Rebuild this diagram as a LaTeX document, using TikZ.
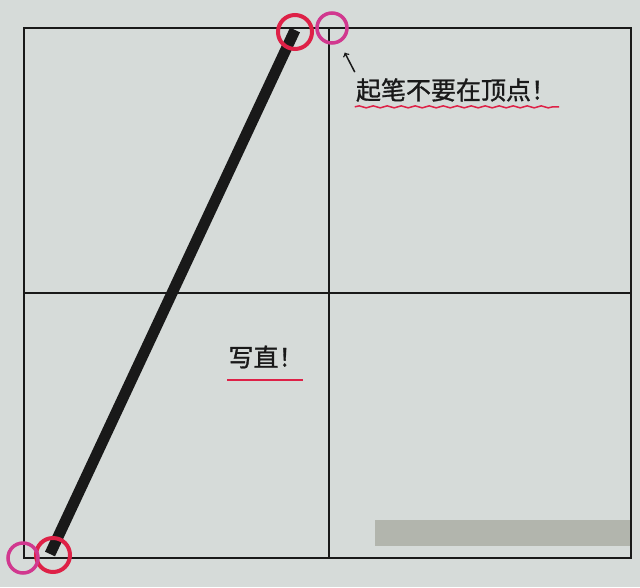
\documentclass[tikz,border=0pt]{standalone}
\usepackage{fontspec}
\newfontfamily\cjk[FakeBold=1.2]{Noto Sans CJK SC}
\usetikzlibrary{positioning}
\usetikzlibrary{calc}
\usetikzlibrary{decorations.pathmorphing}
\definecolor{paper}{rgb}{0.84,0.86,0.85}
\definecolor{patch}{rgb}{0.70,0.71,0.68}
\definecolor{ink}{rgb}{0.1,0.1,0.1}
\definecolor{redpen}{rgb}{0.87,0.13,0.28}
\definecolor{pinkpen}{rgb}{0.82,0.22,0.56}

\begin{document}
\begin{tikzpicture}
    [x=1pt, y=-1pt,
    gridline/.style={draw=ink, line width=2pt},
    stroke/.style={draw=ink, line width=11pt},
    redring/.style={circle, draw=redpen, line width=4pt, minimum size=34pt, inner sep=0pt},
    pinkring/.style={circle, draw=pinkpen, line width=3.5pt, minimum size=30pt, inner sep=0pt},
    note/.style={font=\cjk\fontsize{25}{27}\selectfont, text=ink, inner sep=1pt},
    wavy/.style={draw=redpen, line width=1.5pt, decorate, decoration={snake, amplitude=1pt, segment length=14pt}},
    flat/.style={draw=redpen, line width=2pt}]
     \useasboundingbox (0,0) rectangle (640,587);
     \fill[paper] (0,0) rectangle (640,587);
     \fill[patch] (375,520) rectangle (631,546);
     % field grid
     \coordinate (tl) at (24,28);
     \coordinate (br) at (631,558);
     \coordinate (tm) at (329,28);
     \coordinate (bm) at (329,558);
     \coordinate (ml) at (24,293);
     \coordinate (mr) at (631,293);
     \draw[gridline] (tl) rectangle (br);
     \draw[gridline] (tm) -- (bm);
     \draw[gridline] (ml) -- (mr);
     % the stroke
     \coordinate (top) at (295,30);
     \coordinate (bottom) at (50,554);
     \draw[stroke] (bottom) -- (top);
     % rings
     \node[redring]  (rtop) at (295,32)    {};
     \node[pinkring] (ptop) at (332,28)    {};
     \node[redring]  (rbot) at (53,555)    {};
     \node[pinkring] (pbot) at (23,558)    {};
     % notes
     \node[note] (tip) at (456,90)         {起笔不要在顶点！};
     \node[note] (straight) at (266,357)   {写直！};
     \draw[wavy] ($(tip.south west)+(0,4)$) -- ($(tip.south east)+(2,4)$);
     \draw[flat] ($(straight.south west)+(0,10)$) -- ($(straight.south east)+(-2,10)$);
     \draw[->, ink, line width=1.5pt, shorten >=11pt] ($(tip.north west)+(0,-5)$) -- (ptop);
\end{tikzpicture}
\end{document}
